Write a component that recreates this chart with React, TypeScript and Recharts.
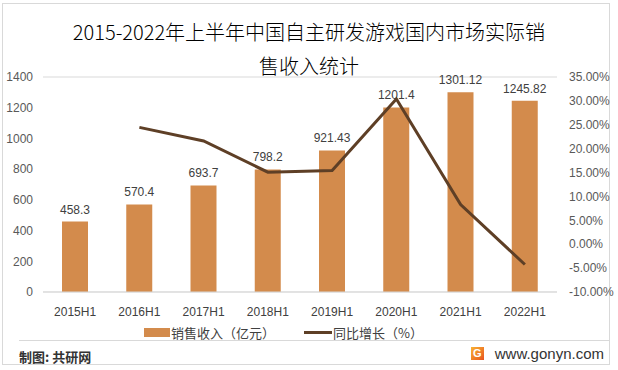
import {
  ComposedChart,
  Bar,
  Line,
  XAxis,
  YAxis,
  CartesianGrid,
  Legend,
  LabelList,
} from 'recharts';

// 2015-2022 H1 domestic sales revenue of self-developed games in China
const periods = ['2015H1', '2016H1', '2017H1', '2018H1', '2019H1', '2020H1', '2021H1', '2022H1'];
const revenue = [458.3, 570.4, 693.7, 798.2, 921.43, 1201.4, 1301.12, 1245.82];
const growth = [null, 0.2446, 0.2162, 0.1507, 0.1544, 0.3038, 0.083, -0.0425];

const leftTicks = [0, 200, 400, 600, 800, 1000, 1200, 1400];
const rightTicks = [-0.1, -0.05, 0, 0.05, 0.1, 0.15, 0.2, 0.25, 0.3, 0.35];

const revenueName = '销售收入（亿元）';
const growthName = '同比增长（%）';

const data = periods.map((p, i) => ({ period: p, revenue: revenue[i], growth: growth[i] }));

const BAR_COLOR = '#D38B4C';
const LINE_COLOR = '#5E3F26';
const FONT = '"Liberation Sans", "Noto Sans CJK SC", sans-serif';

const LegendContent = () => (
  <div
    style={{
      display: 'flex',
      justifyContent: 'flex-start',
      alignItems: 'center',
      paddingLeft: 144,
      height: 20,
      fontFamily: '"Noto Sans CJK SC", sans-serif',
      fontSize: 13,
      color: '#404040',
    }}
  >
    <span style={{ display: 'inline-block', width: 26, height: 9, background: BAR_COLOR, marginRight: 1 }} />
    <span style={{ marginRight: 29 }}>{revenueName}</span>
    <span style={{ display: 'inline-block', width: 28, height: 3, background: LINE_COLOR, marginRight: 1 }} />
    <span>{growthName}</span>
  </div>
);

export default function App() {
  return (
    <div style={{ position: 'absolute', left: 0, top: 0, width: 618, height: 370, background: '#fff' }}>
      {/* outer frame */}
      <div
        style={{
          position: 'absolute',
          left: 2,
          top: 3,
          width: 608,
          height: 362,
          border: '1px solid #D9D9D9',
          boxSizing: 'border-box',
        }}
      />
      {/* title */}
      <div
        style={{
          position: 'absolute',
          left: 0,
          top: 15,
          width: 618,
          textAlign: 'center',
          fontFamily: '"Noto Sans CJK SC", sans-serif',
          fontSize: 20,
          fontWeight: 300,
          lineHeight: '34px',
          color: '#000',
        }}
      >
        2015-2022年上半年中国自主研发游戏国内市场实际销
        <br />
        售收入统计
      </div>

      <div style={{ position: 'absolute', left: 0, top: 0 }}>
        <ComposedChart
          width={618}
          height={370}
          data={data}
          margin={{ top: 77, right: 0, bottom: 28, left: 0 }}
        >
          <CartesianGrid vertical={false} stroke="#D9D9D9" />
          <XAxis
            dataKey="period"
            tickLine={false}
            axisLine={{ stroke: '#D9D9D9' }}
            tick={{ fill: '#404040', fontSize: 12, fontFamily: FONT }}
            tickMargin={9}
            height={30}
          />
          <YAxis
            yAxisId="left"
            orientation="left"
            domain={[0, 1400]}
            ticks={leftTicks}
            width={43}
            tickLine={false}
            axisLine={false}
            tickSize={0}
            tickMargin={10}
            tick={{ fill: '#595959', fontSize: 12, fontFamily: FONT }}
          />
          <YAxis
            yAxisId="right"
            orientation="right"
            domain={[-0.1, 0.35]}
            ticks={rightTicks}
            width={61}
            tickLine={false}
            axisLine={false}
            tickSize={0}
            tickMargin={12}
            tickFormatter={(v: number) => (v * 100).toFixed(2) + '%'}
            tick={{ fill: '#595959', fontSize: 12, fontFamily: FONT }}
          />
          <Legend verticalAlign="bottom" height={20} content={<LegendContent />} />
          <Bar
            yAxisId="left"
            dataKey="revenue"
            name={revenueName}
            fill={BAR_COLOR}
            barSize={26}
            isAnimationActive={false}
          >
            <LabelList
              dataKey="revenue"
              position="top"
              offset={8}
              style={{ fill: '#404040', fontSize: 12, fontFamily: FONT }}
            />
          </Bar>
          <Line
            yAxisId="right"
            dataKey="growth"
            name={growthName}
            stroke={LINE_COLOR}
            strokeWidth={3}
            dot={false}
            activeDot={false}
            connectNulls={false}
            isAnimationActive={false}
          />
        </ComposedChart>
      </div>

      {/* footer */}
      <div style={{ position: 'absolute', left: 19, top: 340, width: 590, height: 1, background: '#D9D9D9' }} />
      <div
        style={{
          position: 'absolute',
          left: 19,
          top: 347,
          fontFamily: '"Noto Sans CJK SC", sans-serif',
          fontSize: 13,
          fontWeight: 700,
          color: '#333',
        }}
      >
        制图: 共研网
      </div>
      <div
        style={{
          position: 'absolute',
          right: 14,
          top: 345,
          display: 'flex',
          alignItems: 'center',
          fontFamily: FONT,
          fontSize: 15,
          color: '#333',
        }}
      >
        <span
          style={{
            display: 'inline-block',
            width: 13,
            height: 13,
            background: 'linear-gradient(135deg, #F9B233, #E8541E)',
            color: '#fff',
            fontSize: 11,
            fontWeight: 700,
            lineHeight: '13px',
            textAlign: 'center',
            marginRight: 11,
          }}
        >
          G
        </span>
        www.gonyn.com
      </div>
    </div>
  );
}
